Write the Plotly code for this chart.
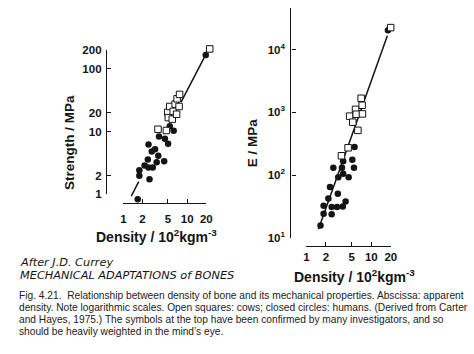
import plotly.graph_objects as go

W, H = 474, 354

# ---------------- data ----------------
# Left panel: strength vs density
strength_cow_density = [3.49, 4.72, 4.98, 5.07, 5.34, 5.84, 6.05, 6.49, 6.84, 6.97, 7.61, 7.48, 22.6]
strength_cow_value = [10.9, 10.4, 20.3, 16.7, 25.1, 15.8, 21.0, 27.4, 18.9, 33.3, 39.1, 25.1, 207]
strength_human_density = [1.68, 1.78, 1.78, 2.57, 2.15, 2.48, 2.89, 2.42, 2.79, 2.48, 3.14, 3.53,
                          3.33, 4.36, 3.62, 4.48, 5.03, 5.34, 6.15, 19.6]
strength_human_value = [0.84, 2.42, 1.98, 1.74, 2.89, 2.67, 2.67, 3.58, 4.80, 6.24, 5.23, 4.12,
                        3.25, 3.37, 8.38, 7.72, 6.38, 12.2, 10.3, 166]
strength_fit_density = [1.33, 1.74, None, 8.03, 18.5]
strength_fit_value = [0.94, 1.60, None, 29.5, 151]

# Right panel: modulus vs density
modulus_cow_density = [6.98, 7.23, 5.72, 4.64, 5.86, 7.31, 5.19, 6.22, 4.39, 3.47, 19.9]
modulus_cow_value = [1672, 1294, 1112, 867, 931, 942, 695, 515, 272, 203, 22300]
modulus_human_density = [1.65, 1.84, 1.84, 2.45, 2.45, 2.97, 3.64, 4.02, 3.05, 2.18, 2.31,
                         2.60, 3.53, 3.69, 4.48, 5.41, 5.10, 3.69, 5.52, 3.10, 18.1]
modulus_human_value = [15.7, 24.2, 32.5, 23.8, 31.1, 31.1, 31.6, 37.8, 50.5, 42.3, 64.7,
                       131, 131, 105, 92.2, 131, 175, 166, 279, 92.2, 20300]
modulus_fit_density = [1.53, 17.7]
modulus_fit_value = [13.7, 16600]

density_ticks = [1, 2, 5, 10, 20]
density_ticktext = ["1", "2", "5", "10", "20"]
strength_ticks = [1, 2, 10, 20, 100, 200]
strength_ticktext = ["1", "2", "10", "20", "100", "200"]
modulus_ticks = [10, 100, 1000, 10000]
modulus_ticktext = ["10<sup>1</sup>", "10<sup>2</sup>", "10<sup>3</sup>", "10<sup>4</sup>"]

caption_lines = [
    "Fig. 4.21.  Relationship between density of bone and its mechanical properties. Abscissa: apparent",
    "density. Note logarithmic scales. Open squares: cows; closed circles: humans. (Derived from Carter",
    "and Hayes, 1975.) The symbols at the top have been confirmed by many investigators, and so",
    "should be heavily weighted in the mind\u2019s eye.",
]
handwriting_lines = ["After J.D. Currey", "MECHANICAL ADAPTATIONS of BONES"]

# ---------------- helpers ----------------
def fx(px):
    return px / W

def fy(py):
    return 1 - py / H

INK = "#141414"
fig = go.Figure()

# pixel geometry of the left panel (log units -> pixels)
LX0, LXS = 122.7, 65.0    # x pixel of density 1, pixels per decade
LY0, LYS = 195.0, 65.0    # y pixel of strength 1, pixels per decade
# data axes for left panel span a larger box so outlying symbols stay visible
lx_pix = (105.0, 225.0)
ly_pix = (215.0, 30.0)
lx_range = [(lx_pix[0] - LX0) / LXS, (lx_pix[1] - LX0) / LXS]
ly_range = [(LY0 - ly_pix[0]) / LYS, (LY0 - ly_pix[1]) / LYS]

line_style = dict(color=INK, width=1.5)
circle_style = dict(symbol="circle", size=6.5, color=INK, line=dict(width=0))
square_style = dict(symbol="square", size=6.5, color="white", line=dict(width=1, color=INK))

# left panel
fig.add_trace(go.Scatter(x=strength_fit_density, y=strength_fit_value, mode="lines",
                         line=line_style, xaxis="x", yaxis="y", connectgaps=False,
                         hoverinfo="skip"))
fig.add_trace(go.Scatter(x=strength_human_density, y=strength_human_value, mode="markers",
                         marker=circle_style, xaxis="x", yaxis="y", cliponaxis=False))
fig.add_trace(go.Scatter(x=strength_cow_density, y=strength_cow_value, mode="markers",
                         marker=square_style, xaxis="x", yaxis="y", cliponaxis=False))
# empty trace that carries the visible left axes
fig.add_trace(go.Scatter(x=[], y=[], mode="markers", xaxis="x3", yaxis="y3"))
# right panel
fig.add_trace(go.Scatter(x=modulus_fit_density, y=modulus_fit_value, mode="lines",
                         line=line_style, xaxis="x2", yaxis="y2", hoverinfo="skip"))
fig.add_trace(go.Scatter(x=modulus_human_density, y=modulus_human_value, mode="markers",
                         marker=circle_style, xaxis="x2", yaxis="y2", cliponaxis=False))
fig.add_trace(go.Scatter(x=modulus_cow_density, y=modulus_cow_value, mode="markers",
                         marker=square_style, xaxis="x2", yaxis="y2", cliponaxis=False))

tickfont = dict(family="Liberation Sans, Arial, sans-serif", size=11.5, color=INK, weight=700)
axis_common = dict(type="log", showgrid=False, zeroline=False, showline=True,
                   linecolor=INK, linewidth=1.3, tickcolor=INK, tickwidth=1.3,
                   tickfont=tickfont, fixedrange=True)

fig.update_layout(
    width=W, height=H, margin=dict(l=0, r=0, t=0, b=0),
    paper_bgcolor="white", plot_bgcolor="rgba(0,0,0,0)", showlegend=False,
    # hidden data axes (left panel)
    xaxis=dict(type="log", visible=False, domain=[fx(lx_pix[0]), fx(lx_pix[1])],
               range=lx_range, anchor="y", fixedrange=True),
    yaxis=dict(type="log", visible=False, domain=[fy(ly_pix[0]), fy(ly_pix[1])],
               range=ly_range, anchor="x", fixedrange=True),
    # visible axes (left panel), same scale as the data axes
    xaxis3=dict(**axis_common, domain=[fx(LX0), fx(LX0 + LXS * 1.30103)], range=[0, 1.30103],
                anchor="free", position=fy(204), ticks="inside", ticklen=4,
                tickvals=density_ticks, ticktext=density_ticktext, ticklabelstandoff=5),
    yaxis3=dict(**axis_common, domain=[fy(LY0), fy(LY0 - LYS * 2.30103)], range=[0, 2.30103],
                anchor="free", position=fx(105), ticks="inside", ticklen=4,
                tickvals=strength_ticks, ticktext=strength_ticktext, ticklabelstandoff=2),
    # right panel
    xaxis2=dict(**axis_common, domain=[fx(309.3), fx(395.3)], range=[0, 1.30103],
                anchor="free", position=fy(248.3), ticks="inside", ticklen=4,
                tickvals=density_ticks, ticktext=density_ticktext, ticklabelstandoff=0),
    yaxis2=dict(**axis_common, domain=[fy(240), fy(2)], range=[1, 4.6615],
                anchor="free", position=fx(293), ticks="inside", ticklen=4,
                tickvals=modulus_ticks, ticktext=modulus_ticktext, ticklabelstandoff=3),
)

title_font = dict(family="Liberation Sans, Arial, sans-serif", size=13.5, color=INK, weight=700)
ann = []
ann.append(dict(text="Strength / MPa", x=fx(67), y=fy(141), textangle=-90, font=title_font))
ann.append(dict(text="E / MPa", x=fx(254), y=fy(142), textangle=-90, font=title_font))
ann.append(dict(text="Density / 10<sup>2</sup>kgm<sup>-3</sup>", x=fx(156), y=fy(238),
                font=dict(title_font, size=14)))
ann.append(dict(text="Density / 10<sup>2</sup>kgm<sup>-3</sup>", x=fx(358), y=fy(279),
                font=dict(title_font, size=14)))
hw_font = dict(family="DejaVu Sans, sans-serif", size=11.3, color=INK, style="italic")
ann.append(dict(text=handwriting_lines[0], x=fx(15), y=fy(266), xanchor="left",
                font=hw_font))
ann.append(dict(text=handwriting_lines[1], x=fx(15), y=fy(279), xanchor="left",
                font=hw_font))
cap_font = dict(family="Liberation Sans, Arial, sans-serif", size=10.2, color="#222222")
for i, line in enumerate(caption_lines):
    ann.append(dict(text=line, x=fx(14), y=fy(300 + 12.2 * i), xanchor="left", font=cap_font))

for a in ann:
    a.update(xref="paper", yref="paper", showarrow=False)
    a.setdefault("xanchor", "center")
    a.setdefault("yanchor", "middle")
fig.update_layout(annotations=ann)

fig.write_html("out.html")
